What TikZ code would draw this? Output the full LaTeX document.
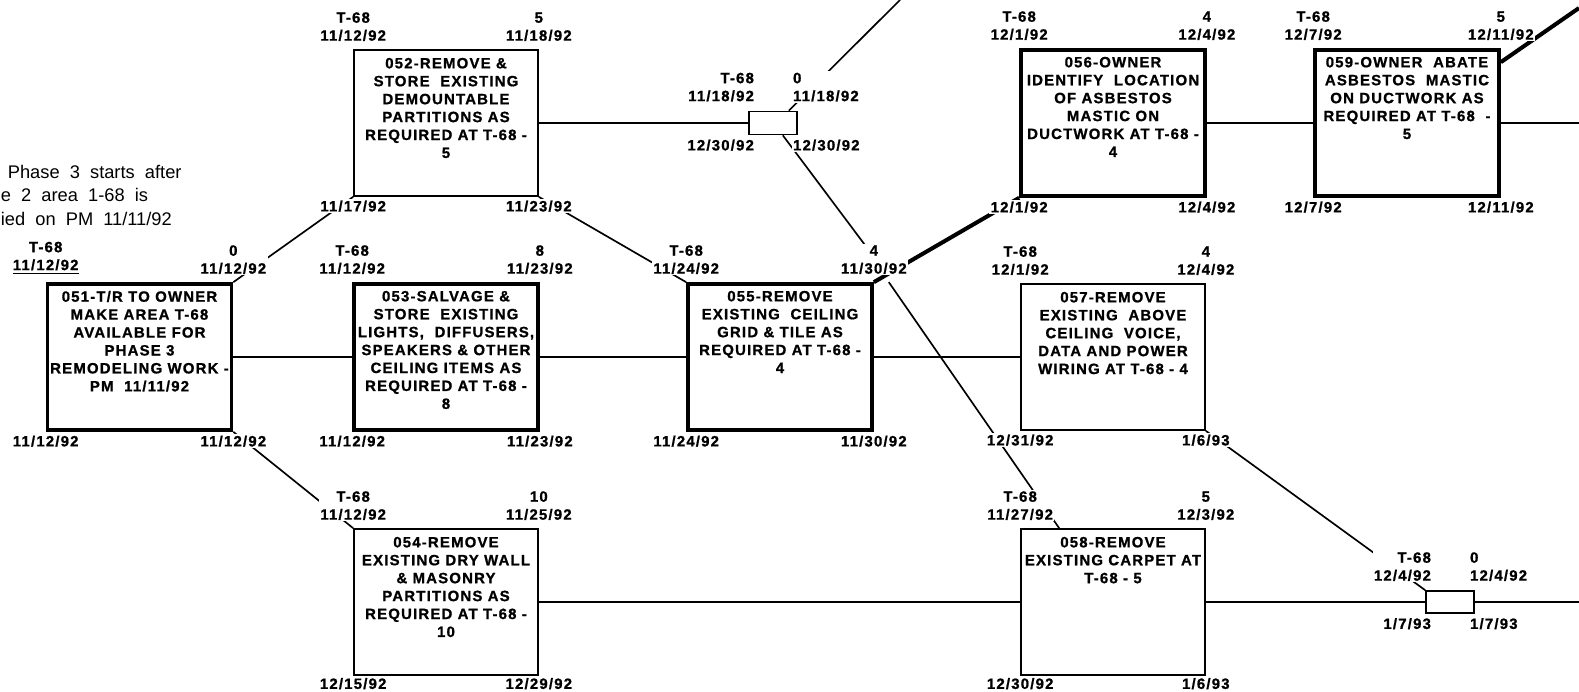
\documentclass[tikz,border=0pt]{standalone}
\usepackage{fontspec}
\setmainfont{Liberation Sans}
\newfontfamily\pertfont[LetterSpace=8, BoldFeatures={FakeBold=1}]{Liberation Sans}
\usetikzlibrary{positioning,calc}

\newcommand{\boxfont}{\pertfont\bfseries\fontsize{8.5}{10.2}\selectfont}
\newcommand{\notefont}{\fontsize{10.4}{13.6}\selectfont}

\begin{document}
\begin{tikzpicture}[x=0.02cm, y=-0.02cm, line width=0.95pt,
  task/.style={draw, minimum width=3.68cm, minimum height=2.92cm, inner sep=0pt},
  crit/.style={task, line width=2.1pt},
  dummy/.style={draw, minimum width=0.96cm, minimum height=0.46cm, inner sep=0pt},
  tasktext/.style={font=\boxfont, align=center, inner sep=2pt},
  datelbl/.style={font=\boxfont, align=center, fill=white, inner sep=0.8pt},
  critline/.style={line width=2.3pt},
  node distance=0.12cm]
\useasboundingbox (0,0) rectangle (1579,691);

% note at the left edge
\node[font=\notefont, align=left, inner sep=0pt, anchor=north west] (note) at (0,164)
  {\hspace*{4pt}Phase\ \ 3\ \ starts\ \ after\\e\ \ 2\ \ area\ \ 1-68\ \ is\\ied\ \ on\ \ PM\ \ 11/11/92};

% activities
\node[crit] (n051) at (139.5,357) {};
\node[task] (n052) at (446,123) {};
\node[crit] (n053) at (446,357) {};
\node[task] (n054) at (446,602) {};
\node[dummy] (d1) at (773,123) {};
\node[crit] (n055) at (780,357) {};
\node[crit] (n056) at (1113,123) {};
\node[task] (n057) at (1113,357) {};
\node[task] (n058) at (1113,602) {};
\node[crit] (n059) at (1407,123) {};
\node[dummy, minimum height=0.44cm] (d2) at (1450,602) {};

\node[tasktext, below=2.5pt of n051.north] (t051) {051-T/R TO OWNER\\MAKE AREA T-68\\AVAILABLE FOR\\PHASE 3\\REMODELING WORK -\\PM\ \ 11/11/92};
\node[tasktext, below=2.5pt of n052.north] (t052) {052-REMOVE \&\\STORE\ \ EXISTING\\DEMOUNTABLE\\PARTITIONS AS\\REQUIRED AT T-68 -\\5};
\node[tasktext, below=2.5pt of n053.north] (t053) {053-SALVAGE \&\\STORE\ \ EXISTING\\LIGHTS,\ \ DIFFUSERS,\\SPEAKERS \& OTHER\\CEILING ITEMS AS\\REQUIRED AT T-68 -\\8};
\node[tasktext, below=2.5pt of n054.north] (t054) {054-REMOVE\\EXISTING DRY WALL\\\& MASONRY\\PARTITIONS AS\\REQUIRED AT T-68 -\\10};
\node[tasktext, below=2.5pt of n055.north] (t055) {055-REMOVE\\EXISTING\ \ CEILING\\GRID \& TILE AS\\REQUIRED AT T-68 -\\4};
\node[tasktext, below=2.5pt of n056.north] (t056) {056-OWNER\\IDENTIFY\ \ LOCATION\\OF ASBESTOS\\MASTIC ON\\DUCTWORK AT T-68 -\\4};
\node[tasktext, below=2.5pt of n057.north] (t057) {057-REMOVE\\EXISTING\ \ ABOVE\\CEILING\ \ VOICE,\\DATA AND POWER\\WIRING AT T-68 - 4};
\node[tasktext, below=2.5pt of n058.north] (t058) {058-REMOVE\\EXISTING CARPET AT\\T-68 - 5};
\node[tasktext, below=2.5pt of n059.north] (t059) {059-OWNER\ \ ABATE\\ASBESTOS\ \ MASTIC\\ON DUCTWORK AS\\REQUIRED AT T-68\ \ -\\5};

% free ends
\coordinate (e1) at (1579,123);
\coordinate (e2) at (1579,602);
\coordinate (e3) at (900,0);
\coordinate (e4) at (1579,8);

% links
\draw (n051.east) -- (n053.west);
\draw (n053.east) -- (n055.west);
\draw (n055.east) -- (n057.west);
\draw (n052.east) -- (d1.west);
\draw (n056.east) -- (n059.west);
\draw (n059.east) -- (e1);
\draw (n054.east) -- (n058.west);
\draw (n058.east) -- (d2.west);
\draw (d2.east) -- (e2);
\draw (n051.north east) -- (n052.south west);
\draw (n051.south east) -- (n054.north west);
\draw (n052.south east) -- (n055.north west);
\draw[critline] (n055.north east) -- (n056.south west);
\draw ($(d1.north east)+(-9,0)$) -- (e3);
\draw ($(d1.south east)+(-15,0)$) -- ($(n055.north east)+(1,-24)$);
\draw ($(n055.north east)+(15,0)$) -- ($(n058.north west)+(39,0)$);
\draw (n057.south east) -- (d2.north west);
\draw[critline] ($(n059.north east)+(0,14)$) -- (e4);

% dates
\node[datelbl, above=of n051.north west] (a051) {T-68\\\underline{11/12/92}};
\node[datelbl, above=of n051.north east] (b051) {0\\11/12/92};
\node[datelbl, below=0.03cm of n051.south west] (c051) {11/12/92};
\node[datelbl, below=0.03cm of n051.south east] (f051) {11/12/92};

\node[datelbl, above=of n052.north west] (a052) {T-68\\11/12/92};
\node[datelbl, above=of n052.north east] (b052) {5\\11/18/92};
\node[datelbl, below=0.03cm of n052.south west] (c052) {11/17/92};
\node[datelbl, below=0.03cm of n052.south east] (f052) {11/23/92};

\node[datelbl, above=of n053.north west] (a053) {T-68\\11/12/92};
\node[datelbl, above=of n053.north east] (b053) {8\\11/23/92};
\node[datelbl, below=0.03cm of n053.south west] (c053) {11/12/92};
\node[datelbl, below=0.03cm of n053.south east] (f053) {11/23/92};

\node[datelbl, above=of n054.north west] (a054) {T-68\\11/12/92};
\node[datelbl, above=of n054.north east] (b054) {10\\11/25/92};
\node[datelbl, below=0cm of n054.south west] (c054) {12/15/92};
\node[datelbl, below=0cm of n054.south east] (f054) {12/29/92};

\node[datelbl, align=right, above left=0.14cm and -0.16cm of d1.north west] (a1) {T-68\\11/18/92};
\node[datelbl, align=left, above right=0.14cm and -0.14cm of d1.north east] (b1) {0\\11/18/92};
\node[datelbl, below left=0.04cm and -0.16cm of d1.south west] (c1) {12/30/92};
\node[datelbl, below right=0.04cm and -0.14cm of d1.south east] (f1) {12/30/92};

\node[datelbl, above=of n055.north west] (a055) {T-68\\11/24/92};
\node[datelbl, above=of n055.north east] (b055) {4\\11/30/92};
\node[datelbl, below=0.03cm of n055.south west] (c055) {11/24/92};
\node[datelbl, below=0.03cm of n055.south east] (f055) {11/30/92};

\node[datelbl, above=of n056.north west] (a056) {T-68\\12/1/92};
\node[datelbl, above=of n056.north east] (b056) {4\\12/4/92};
\node[datelbl, below=0.03cm of n056.south west] (c056) {12/1/92};
\node[datelbl, below=0.03cm of n056.south east] (f056) {12/4/92};

\node[datelbl, above=of n057.north west] (a057) {T-68\\12/1/92};
\node[datelbl, above=of n057.north east] (b057) {4\\12/4/92};
\node[datelbl, below=0.03cm of n057.south west] (c057) {12/31/92};
\node[datelbl, below=0.03cm of n057.south east] (f057) {1/6/93};

\node[datelbl, above=of n058.north west] (a058) {T-68\\11/27/92};
\node[datelbl, above=of n058.north east] (b058) {5\\12/3/92};
\node[datelbl, below=0cm of n058.south west] (c058) {12/30/92};
\node[datelbl, below=0cm of n058.south east] (f058) {1/6/93};

\node[datelbl, above=of n059.north west] (a059) {T-68\\12/7/92};
\node[datelbl, above=of n059.north east] (b059) {5\\12/11/92};
\node[datelbl, below=0.03cm of n059.south west] (c059) {12/7/92};
\node[datelbl, below=0.03cm of n059.south east] (f059) {12/11/92};

\node[datelbl, align=right, above left=0.14cm and -0.16cm of d2.north west] (a2) {T-68\\12/4/92};
\node[datelbl, align=left, above right=0.14cm and -0.14cm of d2.north east] (b2) {0\\12/4/92};
\node[datelbl, below left=0.04cm and -0.16cm of d2.south west] (c2) {1/7/93};
\node[datelbl, below right=0.04cm and -0.14cm of d2.south east] (f2) {1/7/93};
\end{tikzpicture}
\end{document}
